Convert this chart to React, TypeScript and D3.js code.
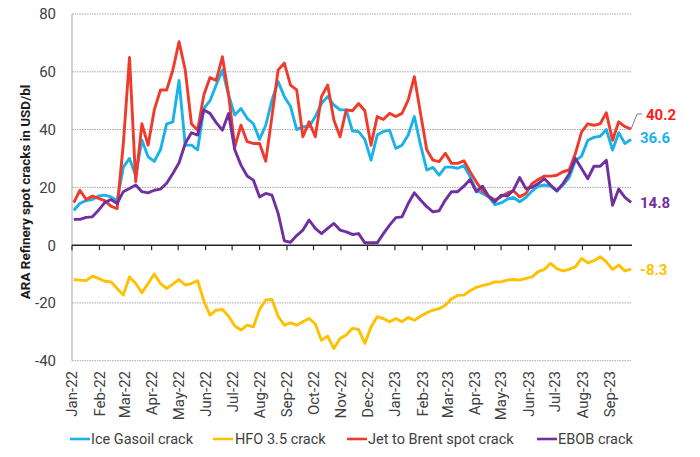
import React from "react";
import * as d3 from "d3";

const startWeek = new Date(2022, 0, 3);
const weekCount = 91;
const weeks: Date[] = d3.range(weekCount).map((i) => d3.timeDay.offset(startWeek, 7 * i));

const iceGasoil = [
  12, 14.5, 15.4, 15.8, 17, 17.3, 16.7, 15.4, 27, 30,
  24, 36.4, 30.6, 29, 33, 42, 42.7, 57, 34.6, 34.6,
  33, 47.3, 50, 55.4, 60.6, 52, 45, 47.3, 43.9, 42,
  36.6, 41.5, 50.2, 56.6, 51.4, 48, 40, 41, 41, 44.5,
  49, 51.4, 48.5, 46.8, 46.8, 39.5, 39.3, 36.6, 29.4, 38.1,
  39.3, 39.8, 33.5, 34.6, 38.1, 44.5, 34.6, 26, 26.9, 24.2,
  27, 27, 26.6, 27.5, 23.7, 19, 17.9, 16.7, 14, 14.6,
  15.9, 16.5, 15, 16.5, 18.7, 20.4, 20.8, 20.4, 18.7, 20.8,
  23.4, 29.2, 30.8, 36.3, 37.3, 37.7, 40, 32.9, 38.9, 35.2,
  36.6,
];

const hfo = [
  -11.9, -12.1, -12.3, -10.7, -11.5, -12.5, -12.7, -15, -17.3, -11,
  -13.3, -16.5, -13.3, -10, -13.3, -15, -13.5, -11.9, -13.8, -13.3,
  -12.3, -19.3, -24.2, -22.5, -22.3, -24.6, -28, -29.4, -27.7, -28.3,
  -22.3, -19, -18.8, -24.6, -27.7, -26.9, -27.7, -26.5, -25.4, -27.3,
  -32.9, -31.5, -35.8, -32.3, -31.1, -28.8, -29.2, -34, -28.3, -24.8,
  -25.4, -26.5, -25.4, -26.5, -25, -26, -24.6, -23.4, -22.5, -22,
  -20.8, -18.6, -17.4, -17.3, -15.8, -14.6, -14, -13.5, -12.7, -12.7,
  -12.1, -11.9, -12.1, -11.5, -11, -9.2, -8.4, -6.3, -8.1, -8.9,
  -8.4, -7.5, -4.6, -6.1, -5.4, -4, -5.8, -8.4, -6.9, -8.9,
  -8.3,
];

const jetBrent = [
  14.7, 19, 15.8, 17, 16.2, 15.4, 13.5, 12.6, 35, 65,
  22, 42, 34.6, 46.8, 53.7, 53.7, 60.6, 70.4, 60.6, 42,
  39.8, 52, 58, 57, 65.2, 52, 34, 41.5, 35.8, 35.2,
  35.2, 29, 44.5, 60.6, 63, 55.4, 53.7, 37.5, 42.7, 37.5,
  51.4, 55.4, 43.3, 37.5, 46.8, 46.5, 49, 46.5, 34.6, 44.5,
  43.5, 45.6, 44.5, 45.6, 50.2, 58.3, 45.6, 33, 29.4, 28.9,
  31.8, 28.3, 28.3, 29.2, 25.4, 21.9, 18.8, 16.9, 15.6, 16.7,
  18.1, 18.8, 16.7, 17.9, 21.3, 22.7, 23.9, 23.9, 24.2, 25.4,
  26, 31.7, 39.2, 42, 41.5, 42, 45.8, 36.3, 42.7, 41,
  40.2,
];

const ebob = [
  8.9, 8.9, 9.6, 9.8, 12.1, 14.7, 15.8, 14.4, 18.5, 19.6,
  20.8, 18.5, 18.1, 19, 19.4, 21.4, 24.8, 28.5, 35.2, 38.9,
  38.1, 46.8, 45.6, 42.4, 39.8, 45.6, 33, 27.7, 23.9, 22.5,
  16.7, 17.9, 17.3, 11, 1.5, 1, 3.3, 5.2, 8.7, 5.8,
  4, 5.8, 7.5, 5.2, 4.6, 3.7, 4, 0.8, 0.8, 0.8,
  4, 6.9, 9.5, 9.8, 14.4, 18.1, 15.6, 13.3, 11.5, 11.9,
  15.6, 18.5, 18.5, 20.4, 22.7, 18.5, 20.4, 16.9, 15, 17.3,
  17, 19, 23.4, 19.6, 20, 21.3, 23, 20.8, 18.8, 21.3,
  24.6, 30, 26.5, 23, 27.3, 27.3, 29.4, 13.8, 19.4, 16.5,
  14.8,
];

const seriesNames = ["Ice Gasoil crack", "HFO 3.5 crack", "Jet to Brent spot crack", "EBOB crack"];
const seriesColors = ["#1bb1ea", "#ffc000", "#ef3b2c", "#7030a0"];
const seriesValues = [iceGasoil, hfo, jetBrent, ebob];
const endLabels = ["36.6", "-8.3", "40.2", "14.8"];
const labelColors = ["#1bb1ea", "#ffc000", "#ff1a1a", "#7030a0"];

const yTicks = [80, 60, 40, 20, 0, -20, -40];
const monthTicks = d3.timeMonth.range(new Date(2022, 0, 1), new Date(2023, 8, 2));

const FONT = "Roboto, 'Noto Sans', sans-serif";

export default function App() {
  const W = 700;
  const H = 457;
  const left = 72;
  const right = 632;
  const x = d3.scaleTime().domain([new Date(2022, 0, 1), new Date(2023, 8, 26)]).range([left, right]);
  const y = d3.scaleLinear().domain([-40, 80]).range([360.7, 14]);
  const line = d3
    .line<number>()
    .x((_, i) => x(weeks[i]))
    .y((v) => y(v))
    .curve(d3.curveLinear);
  const fmt = d3.timeFormat("%b-%y");

  const lastX = x(weeks[weekCount - 1]);
  const labelY = [y(36.6) + 4, y(-8.3) + 6, 0, y(14.8) + 6];
  const redLabelY = 120;

  const legendItems = [
    { lx: 70, tx: 91 },
    { lx: 213, tx: 235 },
    { lx: 347, tx: 368 },
    { lx: 537, tx: 558 },
  ];

  return (
    <svg width={W} height={H} style={{ position: "absolute", left: 0, top: 0, background: "#fff" }} fontFamily={FONT}>
      {yTicks.filter((t) => t !== 0).map((t) => (
        <line key={t} x1={left} x2={right} y1={y(t)} y2={y(t)} stroke="#a6a6a6" strokeWidth={1} strokeDasharray="1.5,1" />
      ))}
      <line x1={left} x2={left} y1={y(80)} y2={y(-40)} stroke="#a6a6a6" strokeWidth={1} />
      {yTicks.map((t) => (
        <text key={t} x={56} y={y(t)} dy="0.36em" textAnchor="end" fontSize={15} fill="#404040">
          {t}
        </text>
      ))}
      <text
        transform={`translate(25,${192}) rotate(-90)`}
        textAnchor="middle"
        dy="0.35em"
        fontSize={13.5}
        fontWeight="bold"
        fill="#1a1a1a"
      >
        ARA Refinery spot cracks in USD/bl
      </text>
      {seriesValues.map((vals, k) => (
        <path key={k} d={line(vals) || ""} fill="none" stroke={seriesColors[k]} strokeWidth={2.9} strokeLinejoin="round" />
      ))}
      <line x1={left} x2={right} y1={y(0)} y2={y(0)} stroke="#262626" strokeWidth={1.5} />
      {monthTicks.map((m, i) => (
        <g key={i}>
          <line x1={x(m)} x2={x(m)} y1={y(0)} y2={y(0) + 5} stroke="#262626" strokeWidth={1.2} />
          <text
            transform={`translate(${x(m)},371) rotate(-90)`}
            textAnchor="end"
            dy="0.36em"
            fontSize={15}
            fill="#404040"
          >
            {fmt(m)}
          </text>
        </g>
      ))}
      <polyline
        points={`${lastX},${y(40.2)} ${lastX + 6},${redLabelY - 6} ${lastX + 11},${redLabelY - 6}`}
        fill="none"
        stroke="#808080"
        strokeWidth={1}
      />
      <text x={646} y={redLabelY} fontSize={15} fontWeight="bold" fill={labelColors[2]}>
        {endLabels[2]}
      </text>
      {[0, 1, 3].map((k) => (
        <text key={k} x={640} y={labelY[k]} fontSize={15} fontWeight="bold" fill={labelColors[k]}>
          {endLabels[k]}
        </text>
      ))}
      {legendItems.map((it, k) => (
        <g key={k}>
          <line x1={it.lx} x2={it.lx + 20} y1={439} y2={439} stroke={seriesColors[k]} strokeWidth={2.6} />
          <text x={it.tx} y={439} dy="0.36em" fontSize={14.5} fill="#404040">
            {seriesNames[k]}
          </text>
        </g>
      ))}
    </svg>
  );
}
